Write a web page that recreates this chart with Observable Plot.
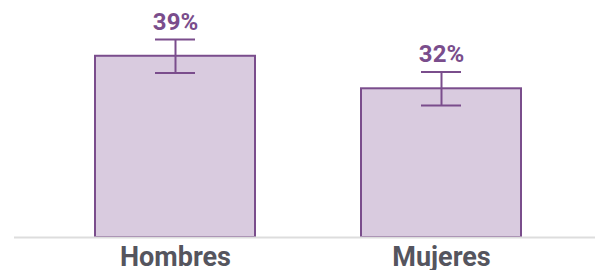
<!DOCTYPE html>
<html>
<head>
<meta charset="utf-8">
<script src="https://cdn.jsdelivr.net/npm/d3@7"></script>
<script src="https://cdn.jsdelivr.net/npm/@observablehq/plot@0.6"></script>
<style>
  html, body { margin: 0; padding: 0; background: #fff; }
  #chart { width: 595px; height: 270px; }
</style>
</head>
<body>
<div id="chart"></div>
<script>
const categories = ["Hombres", "Mujeres"];
const values = [39, 32];
const errors = [3.6, 3.6];
const labels = ["39%", "32%"];

const data = categories.map((c, i) => ({
  cat: c, value: values[i], lo: values[i] - errors[i], hi: values[i] + errors[i], label: labels[i]
}));

const purple = "#7a4d8c";
const fillPurple = "#d9cbdf";

const chart = Plot.plot({
  width: 595,
  height: 270,
  marginTop: 0,
  marginBottom: 33,
  marginLeft: 14,
  marginRight: 0,
  style: { fontFamily: "Roboto, sans-serif", background: "white" },
  x: { domain: categories, paddingInner: 0.4, paddingOuter: 0.29, align: 0.52, label: null },
  y: { domain: [0, 51], axis: null },
  marks: [
    Plot.barY(data, { x: "cat", y: "value", fill: fillPurple, stroke: purple, strokeWidth: 2 }),
    Plot.ruleY([0], { stroke: "#dddddd", strokeWidth: 2 }),
    Plot.ruleX(data, { x: "cat", y1: "lo", y2: "hi", stroke: purple, strokeWidth: 2 }),
    Plot.tickY(data, { x: "cat", y: "lo", stroke: purple, strokeWidth: 2, insetLeft: 60, insetRight: 60 }),
    Plot.tickY(data, { x: "cat", y: "hi", stroke: purple, strokeWidth: 2, insetLeft: 60, insetRight: 60 }),
    Plot.text(data, { x: "cat", y: "hi", text: "label", lineAnchor: "bottom", dy: -10, fill: purple, fontSize: 24, fontWeight: "bold" }),
    Plot.axisX({ tickSize: 0, tickPadding: 9, fontSize: 27, fontWeight: "bold", color: "#55555e", label: null })
  ]
});
document.getElementById("chart").appendChild(chart);
</script>
</body>
</html>
